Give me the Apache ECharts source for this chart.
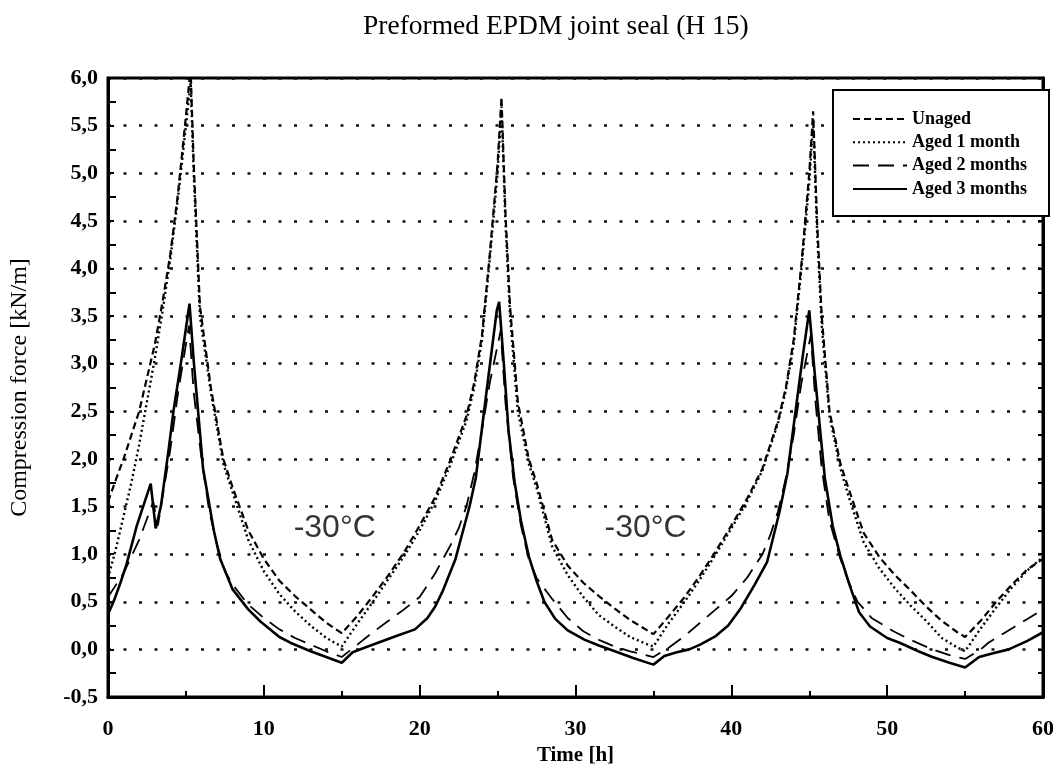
<!DOCTYPE html>
<html>
<head>
<meta charset="utf-8">
<script src="https://cdn.jsdelivr.net/npm/echarts@6/dist/echarts.min.js"></script>
<style>
  html, body { margin: 0; padding: 0; background: #fff; }
  #chart { width: 1057px; height: 778px; }
</style>
</head>
<body>
<div id="chart"></div>
<script>
// values
const unagedT = [0, 0.5, 1, 1.5, 2, 2.5, 3, 3.5, 4, 4.5, 5, 5.3, 5.5, 5.9, 6.6, 7.4, 8, 9, 10, 11, 12, 13, 14, 15,
  16, 17, 18, 19, 20, 21, 22, 23, 23.5, 24, 24.5, 25, 25.25, 25.5, 25.8, 26.3, 27, 27.5, 28.5, 29.5, 30.5, 31.5, 32.5, 33.5, 34.5, 35,
  36, 37, 38, 39, 40, 41, 42, 43, 43.5, 44, 44.5, 45, 45.25, 45.5, 45.8, 46.3, 47, 47.5, 48.5, 49.5, 50.5, 51.5, 52.5, 53.5, 54.5, 55,
  56, 57, 58, 59, 60]
const unagedV = [1.55, 1.78, 2.0, 2.25, 2.5, 2.85, 3.2, 3.65, 4.15, 4.8, 5.6, 6.1, 5.1, 3.6, 2.75, 2.0, 1.7, 1.25, 0.95, 0.72, 0.56, 0.42, 0.28, 0.17,
  0.35, 0.56, 0.78, 1.02, 1.3, 1.6, 2.0, 2.45, 2.8, 3.3, 4.15, 5.1, 5.8, 4.6, 3.6, 2.6, 2.0, 1.75, 1.15, 0.88, 0.7, 0.56, 0.43, 0.31, 0.21, 0.16,
  0.35, 0.55, 0.78, 1.03, 1.3, 1.58, 1.9, 2.4, 2.75, 3.25, 4.05, 5.0, 5.65, 4.5, 3.5, 2.5, 1.95, 1.7, 1.22, 0.97, 0.78, 0.62, 0.45, 0.3, 0.18, 0.13,
  0.3, 0.5, 0.68, 0.84, 0.95]

const month1T = [0, 0.5, 1, 1.5, 2, 2.5, 3, 3.5, 4, 4.5, 5, 5.3, 5.5, 5.9, 6.6, 7.4, 8, 9, 10, 11, 12, 13, 14, 15,
  16, 17, 18, 19, 20, 21, 22, 23, 23.5, 24, 24.5, 25, 25.25, 25.5, 25.8, 26.3, 27, 27.5, 28.5, 29.5, 30.5, 31.5, 32.5, 33.5, 34.5, 35,
  36, 37, 38, 39, 40, 41, 42, 43, 43.5, 44, 44.5, 45, 45.25, 45.5, 45.8, 46.3, 47, 47.5, 48.5, 49.5, 50.5, 51.5, 52.5, 53.5, 54.5, 55,
  56, 57, 58, 59, 60]
const month1V = [0.75, 1.05, 1.4, 1.75, 2.15, 2.6, 3.05, 3.55, 4.1, 4.75, 5.5, 5.95, 5.0, 3.5, 2.7, 1.95, 1.65, 1.15, 0.82, 0.58, 0.4, 0.25, 0.12, 0.03,
  0.27, 0.5, 0.74, 0.98, 1.25, 1.56, 1.95, 2.4, 2.75, 3.25, 4.1, 5.0, 5.7, 4.5, 3.5, 2.5, 1.95, 1.7, 1.08, 0.78, 0.55, 0.36, 0.24, 0.13, 0.06, 0.03,
  0.28, 0.5, 0.74, 1.0, 1.27, 1.55, 1.88, 2.38, 2.72, 3.2, 4.0, 4.9, 5.55, 4.4, 3.4, 2.45, 1.9, 1.62, 1.12, 0.85, 0.64, 0.46, 0.3, 0.12, 0.02, -0.02,
  0.22, 0.44, 0.65, 0.83, 0.97]

const month2T = [0, 1, 2, 2.9, 3.2, 3.6, 4, 4.5, 5.2, 5.5, 6, 6.5, 7, 7.5, 8, 9, 10, 11, 12, 13, 14, 15,
  16, 17, 18, 19, 20, 21, 22, 22.5, 23, 23.5, 24, 24.5, 25.2, 25.5, 26, 26.5, 27, 27.5, 28.5, 29.5, 30.5, 31.5, 32.5, 33.5, 34.5, 35,
  36, 37, 38, 39, 40, 41, 42, 42.5, 43, 43.5, 44, 44.5, 45.1, 45.4, 45.8, 46.3, 47, 47.5, 48.1, 49, 50.4, 51.5, 52.9, 54, 55,
  56, 56.5, 57.5, 58.3, 59, 60]
const month2V = [0.55, 0.8, 1.15, 1.55, 1.3, 1.7, 2.1, 2.7, 3.4, 2.7, 2.0, 1.45, 1.1, 0.82, 0.68, 0.47, 0.33, 0.21, 0.12, 0.05, -0.02, -0.08,
  0.05, 0.18, 0.3, 0.42, 0.55, 0.8, 1.1, 1.27, 1.5, 1.85, 2.3, 2.8, 3.35, 2.6, 1.8, 1.3, 0.95, 0.75, 0.53, 0.33, 0.19, 0.1, 0.03, -0.02, -0.06, -0.08,
  0.02, 0.14, 0.28, 0.42, 0.56, 0.75, 1.0, 1.2, 1.45, 1.8, 2.25, 2.8, 3.3, 2.6, 1.9, 1.35, 0.95, 0.72, 0.5, 0.33, 0.19, 0.1, 0.0, -0.06, -0.1,
  0.0, 0.07, 0.17, 0.25, 0.32, 0.42]

const month3T = [0, 0.4, 0.8, 1.2, 1.85, 2.74, 3.06, 3.4, 3.9, 4.2, 4.7, 5.23, 5.5, 6.1, 6.8, 7.2, 8, 9, 9.8, 11, 11.7, 13, 14, 15,
  15.7, 16.5, 17.5, 18.5, 19.7, 20.5, 21, 21.5, 22.3, 23.2, 23.6, 24.4, 24.95, 25.1, 25.4, 25.7, 26.1, 26.5, 27, 27.5, 28, 28.7, 29.5, 30.6, 31.5, 32.7, 33.7, 35,
  35.7, 36.5, 37.3, 38, 39, 39.8, 40.6, 41.5, 42.3, 43.1, 43.6, 44.2, 44.6, 45, 45.35, 45.7, 46, 46.5, 47, 47.6, 48.2, 48.9, 50, 50.8, 52, 52.9, 54, 55,
  55.9, 56.8, 57.8, 59, 60]
const month3V = [0.37, 0.52, 0.7, 0.9, 1.3, 1.74, 1.27, 1.51, 2.11, 2.5, 3.03, 3.63, 3.03, 1.9, 1.24, 0.95, 0.63, 0.42, 0.29, 0.13, 0.07, -0.02, -0.08, -0.14,
  -0.03, 0.02, 0.08, 0.14, 0.21, 0.33, 0.45, 0.62, 0.95, 1.5, 1.8, 2.85, 3.56, 3.65, 3.0, 2.3, 1.75, 1.35, 0.98, 0.72, 0.5, 0.32, 0.2, 0.1, 0.04, -0.03, -0.09, -0.16,
  -0.07, -0.03, 0.0, 0.05, 0.14, 0.25, 0.43, 0.68, 0.92, 1.45, 1.85, 2.6, 3.1, 3.56, 2.9, 2.3, 1.8, 1.3, 0.98, 0.67, 0.39, 0.24, 0.12, 0.07, -0.02, -0.08, -0.14, -0.19,
  -0.08, -0.04, 0.0, 0.09, 0.18]

const seriesNames = ['Unaged', 'Aged 1 month', 'Aged 2 months', 'Aged 3 months']

// temperature notes inside the plot
const noteT = [14.55, 34.5]
const noteV = [1.27, 1.27]
const noteText = ['-30°C', '-30°C']

const serif = '"Liberation Serif", "Times New Roman", serif'

const pairs = (ts, vs) => ts.map((t, i) => [t, vs[i]])

const chart = echarts.init(document.getElementById('chart'), null, { renderer: 'canvas' })

const lineSeries = (name, ts, vs, width, type) => ({
  name: name,
  type: 'line',
  data: pairs(ts, vs),
  symbol: 'none',
  showSymbol: false,
  smooth: false,
  clip: true,
  lineStyle: { color: '#000', width: width, type: type },
  itemStyle: { color: '#000' },
  silent: true,
  z: 3
})

const option = {
  backgroundColor: '#fff',
  animation: false,
  title: {
    text: 'Preformed EPDM joint seal (H 15)',
    left: 358,
    top: 8,
    textStyle: { fontFamily: serif, fontSize: 27.5, fontWeight: 'normal', color: '#000' }
  },
  legend: {
    data: seriesNames,
    orient: 'vertical',
    left: 833,
    top: 90,
    padding: [20, 22, 18, 19],
    itemGap: 5.3,
    itemWidth: 54,
    itemHeight: 14,
    // hide the marker that line series put in the middle of the icon
    itemStyle: { opacity: 0, color: 'rgba(0,0,0,0)', borderWidth: 0 },
    backgroundColor: '#fff',
    borderColor: '#000',
    borderWidth: 2,
    borderRadius: 0,
    textStyle: { fontFamily: serif, fontSize: 18, fontWeight: 'bold', color: '#000' }
  },
  grid: {
    left: 104,
    right: 13,
    top: 78,
    bottom: 81,
    show: true,
    borderColor: '#000',
    borderWidth: 3,
    backgroundColor: 'transparent'
  },
  xAxis: {
    type: 'value',
    min: 0,
    max: 60,
    interval: 10,
    name: 'Time [h]',
    nameLocation: 'middle',
    nameGap: 48,
    nameTextStyle: { fontFamily: serif, fontSize: 21, fontWeight: 'bold', color: '#000' },
    axisLine: { onZero: false, lineStyle: { color: '#000', width: 3 } },
    axisTick: { inside: true, length: 12, lineStyle: { color: '#000', width: 2 } },
    minorTick: { show: true, splitNumber: 2, length: 6, lineStyle: { color: '#000', width: 2 } },
    axisLabel: { margin: 21, fontFamily: serif, fontSize: 22, fontWeight: 'bold', color: '#000' },
    splitLine: { show: false }
  },
  yAxis: [
    {
      type: 'value',
      min: -0.5,
      max: 6,
      interval: 0.5,
      name: 'Compression force [kN/m]',
      nameLocation: 'middle',
      nameGap: 76,
      nameTextStyle: { fontFamily: serif, fontSize: 24, color: '#000' },
      axisLine: { show: true, onZero: false, lineStyle: { color: '#000', width: 3 } },
      axisTick: { inside: true, length: 6, lineStyle: { color: '#000', width: 2 } },
      minorTick: { show: true, splitNumber: 2, length: 8, lineStyle: { color: '#000', width: 2 } },
      axisLabel: {
        margin: 10,
        fontFamily: serif,
        fontSize: 22,
        fontWeight: 'bold',
        color: '#000',
        formatter: (v) => v.toFixed(1).replace('.', ',')
      },
      splitLine: { show: true, lineStyle: { color: '#111', width: 2.5, type: [3, 12.5] } }
    },
    {
      type: 'value',
      position: 'right',
      min: -0.5,
      max: 6,
      interval: 0.5,
      axisLine: { show: true, onZero: false, lineStyle: { color: '#000', width: 3 } },
      axisTick: { show: true, inside: true, length: 5, lineStyle: { color: '#000', width: 2 } },
      minorTick: { show: true, splitNumber: 2, length: 5, lineStyle: { color: '#000', width: 2 } },
      axisLabel: { show: false },
      splitLine: { show: false }
    }
  ],
  series: [
    lineSeries(seriesNames[0], unagedT, unagedV, 2.2, [7, 4]),
    lineSeries(seriesNames[1], month1T, month1V, 2.4, [2, 3]),
    lineSeries(seriesNames[2], month2T, month2V, 1.8, [16, 9]),
    lineSeries(seriesNames[3], month3T, month3V, 2.6, 'solid'),
    {
      name: 'notes',
      type: 'scatter',
      data: noteT.map((t, i) => [t, noteV[i], noteText[i]]),
      symbolSize: 1,
      itemStyle: { color: 'rgba(0,0,0,0)' },
      silent: true,
      label: {
        show: true,
        position: 'inside',
        formatter: (p) => p.data[2],
        fontFamily: '"Liberation Sans", Arial, sans-serif',
        fontSize: 32,
        color: '#000'
      },
      z: 4
    }
  ]
}

chart.setOption(option)
window.addEventListener('resize', () => chart.resize())
</script>
</body>
</html>
